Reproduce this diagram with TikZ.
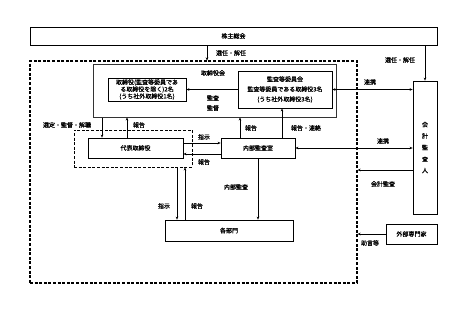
\documentclass[tikz,border=0pt]{standalone}
\usepackage{fontspec}
\setmainfont[AutoFakeBold=0.6]{Noto Sans CJK JP}
\usetikzlibrary{arrows.meta,positioning,calc}
\tikzset{
  org box/.style={draw=black,line width=0.8pt,fill=white,align=center,inner sep=1pt,
    font=\fontsize{6}{7}\selectfont\bfseries},
  group frame/.style={draw=black,line width=1.2pt,dash pattern=on 3pt off 1.6pt,inner sep=0pt},
  flow arrow/.style={->,line width=0.6pt},
  flow label/.style={font=\fontsize{6}{7}\selectfont\bfseries,inner sep=1pt,align=center}
}

\begin{document}
\begin{tikzpicture}[x=1pt,y=-1pt,>={Stealth[length=3pt,width=2.6pt]}]
\useasboundingbox (0,0) rectangle (466,309);
% frames and boxes
\node[org box,minimum width=407pt,minimum height=18pt] (soukai) at (233.5,36) {株主総会};
\node[group frame,minimum width=327pt,minimum height=222pt] (company) at (193.5,172) {};
\node[org box,draw=black!80,line width=1pt,minimum width=243pt,minimum height=53pt] (board) at (214.5,90.5) {};
\node[flow label] (boardlbl) at (213,73) {取締役会};
\node[org box,minimum width=78pt,minimum height=23pt] (directors) at (147,89.5)
  {取締役(監査等委員であ\\る取締役を除く)2名\\(うち社外取締役1名)};
\node[org box,minimum width=94pt,minimum height=37pt,font=\fontsize{6}{10}\selectfont\bfseries] (committee) at (285,89.5)
  {監査等委員会\\監査等委員である取締役3名\\(うち社外取締役3名)};
\node[flow label,font=\fontsize{6}{10}\selectfont\bfseries] (kansalbl) at (213,103) {監査\\監督};
\node[org box,minimum width=95pt,minimum height=20pt] (ceo) at (135.5,148) {代表取締役};
\node[group frame,line width=1pt,minimum width=118pt,minimum height=37pt] (ceogroup) at (133,148.5) {};
\node[org box,minimum width=74pt,minimum height=20pt] (audit) at (258,148) {内部監査室};
\node[org box,minimum width=128pt,minimum height=21pt] (depts) at (229,230.5) {各部門};
\node[org box,minimum width=24pt,minimum height=133pt,font=\fontsize{6}{11.5}\selectfont\bfseries] (auditor) at (425,147.5)
  {会\\計\\監\\査\\人};
\node[org box,minimum width=51pt,minimum height=20pt] (experts) at (411.5,234) {外部専門家};

% connectors
\coordinate (c1) at (207,0);
\draw[flow arrow] (soukai.south -| c1) -- (company.north -| c1);
\node[flow label] (l1) at (231,53) {選任・解任};
\draw[flow arrow] (soukai.south -| auditor.north) -- (auditor.north);
\node[flow label] (l2) at (400,60) {選任・解任};
\draw[flow arrow] (committee.west) -- (directors.east);
\draw[flow arrow,<->] (committee.east) -- (committee.east -| auditor.west);
\node[flow label] (l3) at (370,82) {連携};
\coordinate (c2) at (102,0);
\draw[flow arrow] (board.south -| c2) -- (ceo.north -| c2);
\node[flow label] (l4) at (67,125) {選定・監督・解職};
\coordinate (c3) at (127,0);
\draw[flow arrow] (ceo.north -| c3) -- (board.south -| c3);
\node[flow label] (l5) at (139,125) {報告};
\coordinate (c4) at (0,143);
\draw[flow arrow] (ceo.east |- c4) -- (audit.west |- c4);
\node[flow label] (l6) at (204,137) {指示};
\coordinate (c5) at (0,154);
\draw[flow arrow] (audit.west |- c5) -- (ceo.east |- c5);
\node[flow label] (l7) at (204,162) {報告};
\coordinate (c6) at (240,0);
\draw[flow arrow] (audit.north -| c6) -- (board.south -| c6);
\node[flow label] (l8) at (251,128) {報告};
\coordinate (c7) at (282,0);
\draw[flow arrow] (audit.north -| c7) -- (committee.south -| c7);
\node[flow label] (l9) at (306,128) {報告・連絡};
\draw[flow arrow,<->] (audit.east) -- (audit.east -| auditor.west);
\node[flow label] (l10) at (383,141) {連携};
\coordinate (c9) at (0,170);
\draw[flow arrow] (auditor.west |- c9) -- (company.east |- c9);
\node[flow label] (l11) at (383,184) {会計監査};
\draw[flow arrow] (audit.south) -- (audit.south |- depts.north);
\node[flow label] (l12) at (236,187) {内部監査};
\coordinate (c11) at (177,0);
\draw[flow arrow] (ceogroup.south -| c11) -- (depts.north -| c11);
\node[flow label] (l13) at (164,206) {指示};
\coordinate (c12) at (185,0);
\draw[flow arrow] (depts.north -| c12) -- (ceogroup.south -| c12);
\node[flow label] (l14) at (197,206) {報告};
\draw[flow arrow] (experts.west) -- (experts.west -| company.east);
\node[flow label] (l15) at (370,243) {助言等};
\end{tikzpicture}
\end{document}
